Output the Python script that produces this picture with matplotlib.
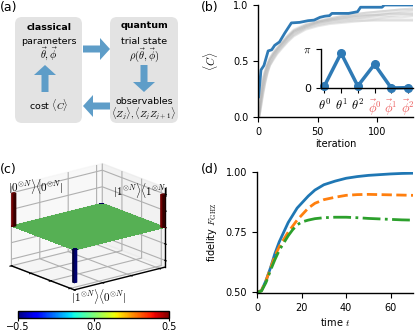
import numpy as np
import matplotlib
matplotlib.use("Agg")
import matplotlib.pyplot as plt
from matplotlib.patches import FancyBboxPatch, FancyArrow
from matplotlib.colors import Normalize, LightSource
from matplotlib.cm import ScalarMappable

plt.rcParams["mathtext.fontset"] = "cm"
plt.rcParams["font.size"] = 7
plt.rcParams["axes.linewidth"] = 1.0

# -------------------------------
# Data
# -------------------------------
# (b) cost during optimisation, best run
best_iter = [0.5, 2.5, 5, 8.5, 11.5, 14, 18, 22.5, 28, 35, 42, 47, 52, 56, 60, 62, 76, 83.5, 86, 104, 106, 130]
best_cost = [0.18, 0.42, 0.46, 0.59, 0.60, 0.64, 0.67, 0.75, 0.84, 0.845, 0.86, 0.865, 0.89, 0.90, 0.905, 0.925,
             0.925, 0.94, 0.98, 0.98, 1.0, 1.0]

# (b) other runs (grey)
run_iter = [0, 1, 2, 4, 6, 8, 10, 13, 16, 20, 25, 30, 40, 50, 60, 70, 80, 90, 100, 110, 120, 130]
runs = [
    [0, 0.05, 0.20, 0.35, 0.42, 0.48, 0.53, 0.58, 0.62, 0.67, 0.73, 0.78, 0.83, 0.86, 0.88, 0.90, 0.92, 0.93, 0.94, 0.95, 0.96, 0.97],
    [0, 0.02, 0.12, 0.28, 0.38, 0.45, 0.50, 0.55, 0.60, 0.65, 0.71, 0.76, 0.81, 0.84, 0.86, 0.88, 0.89, 0.90, 0.91, 0.92, 0.93, 0.93],
    [0, 0.00, 0.08, 0.22, 0.33, 0.41, 0.47, 0.53, 0.58, 0.63, 0.69, 0.74, 0.80, 0.83, 0.85, 0.86, 0.87, 0.88, 0.88, 0.89, 0.89, 0.90],
    [0, 0.00, 0.05, 0.18, 0.30, 0.39, 0.46, 0.52, 0.57, 0.62, 0.68, 0.73, 0.79, 0.82, 0.84, 0.85, 0.86, 0.86, 0.87, 0.87, 0.87, 0.87],
    [0, 0.03, 0.15, 0.31, 0.40, 0.47, 0.52, 0.57, 0.61, 0.66, 0.72, 0.77, 0.82, 0.85, 0.87, 0.89, 0.90, 0.91, 0.92, 0.93, 0.94, 0.95],
    [0, 0.01, 0.10, 0.25, 0.36, 0.43, 0.49, 0.55, 0.59, 0.64, 0.70, 0.75, 0.80, 0.84, 0.86, 0.87, 0.88, 0.89, 0.90, 0.90, 0.91, 0.91],
    [0, 0.00, 0.06, 0.20, 0.31, 0.40, 0.46, 0.51, 0.56, 0.61, 0.67, 0.72, 0.78, 0.81, 0.83, 0.84, 0.85, 0.86, 0.86, 0.86, 0.86, 0.86],
    [0, 0.04, 0.18, 0.33, 0.41, 0.47, 0.52, 0.57, 0.61, 0.66, 0.72, 0.77, 0.82, 0.85, 0.88, 0.90, 0.91, 0.93, 0.94, 0.95, 0.96, 0.96],
    [0, 0.02, 0.13, 0.29, 0.39, 0.46, 0.51, 0.56, 0.60, 0.65, 0.71, 0.76, 0.81, 0.85, 0.87, 0.88, 0.90, 0.91, 0.91, 0.92, 0.92, 0.92],
]

# (b) inset: optimal parameters
param_labels = [r"$\theta^0$", r"$\theta^1$", r"$\theta^2$", r"$\vec{\phi}^0$", r"$\vec{\phi}^1$", r"$\vec{\phi}^2$"]
param_values = [0.16, 2.81, 0.16, 1.91, 0.0, 0.03]

# (c) density matrix corners, rest is ~0
n_dim = 32
corner_values = {"00": 0.5, "11": 0.5, "10": -0.5, "01": -0.5}
corner_labels = [r"$|0^{\otimes N}\rangle\langle 0^{\otimes N}|$",
                 r"$|1^{\otimes N}\rangle\langle 1^{\otimes N}|$",
                 r"$|1^{\otimes N}\rangle\langle 0^{\otimes N}|$"]

# (d) fidelity vs time
t = [0, 2, 4, 6, 8, 10, 12, 14, 16, 18, 20, 23, 26, 30, 35, 40, 45, 50, 55, 60, 65, 70]
fid_blue = [0.5, 0.507, 0.548, 0.60, 0.66, 0.71, 0.75, 0.79, 0.82, 0.85, 0.87, 0.90, 0.925, 0.947, 0.962,
            0.974, 0.981, 0.986, 0.989, 0.992, 0.994, 0.995]
fid_orange = [0.5, 0.507, 0.547, 0.598, 0.65, 0.69, 0.72, 0.75, 0.775, 0.80, 0.82, 0.85, 0.87, 0.885, 0.895,
              0.903, 0.906, 0.907, 0.906, 0.905, 0.904, 0.903]
fid_green = [0.5, 0.505, 0.54, 0.59, 0.635, 0.675, 0.705, 0.735, 0.76, 0.78, 0.792, 0.80, 0.806, 0.81, 0.812,
             0.812, 0.81, 0.807, 0.805, 0.803, 0.801, 0.80]

W, H = 415, 332
fig = plt.figure(figsize=(W / 100, H / 100), dpi=100)


def box(l, t_, r, b):
    return [l / W, 1 - b / H, (r - l) / W, (b - t_) / H]


def px(x, y):
    return x / W, 1 - y / H


def despine(ax):
    ax.spines["top"].set_visible(False)
    ax.spines["right"].set_visible(False)


# -------------------------------
# (a) scheme
# -------------------------------
ax_a = fig.add_axes(box(0, 0, 205, 140))
ax_a.set_xlim(0, 205)
ax_a.set_ylim(140, 0)
ax_a.axis("off")

box_color = "#e3e3e3"
arrow_color = "#5e9dc8"
for l, r in [(15, 82), (110, 178)]:
    ax_a.add_patch(FancyBboxPatch((l, 17), r - l, 106, boxstyle="round,pad=0,rounding_size=7",
                                  fc=box_color, ec="none"))

arrow_kw = dict(width=7, head_width=22, head_length=10, length_includes_head=True, fc=arrow_color, ec="none")
ax_a.add_patch(FancyArrow(83, 49, 27, 0, **arrow_kw))
ax_a.add_patch(FancyArrow(144, 65, 0, 27, **arrow_kw))
ax_a.add_patch(FancyArrow(110, 106, -27, 0, **arrow_kw))
ax_a.add_patch(FancyArrow(45, 92, 0, -27, **arrow_kw))

fs = 6.8
ax_a.text(49, 27, "classical", ha="center", va="center", fontweight="bold", fontsize=fs)
ax_a.text(49, 42, "parameters", ha="center", va="center", fontsize=fs)
ax_a.text(49, 54, r"$\vec{\theta},\vec{\phi}$", ha="center", va="center", fontsize=7.5)
ax_a.text(49, 105, r"cost $\langle C\rangle$", ha="center", va="center", fontsize=fs)
ax_a.text(144, 26, "quantum", ha="center", va="center", fontweight="bold", fontsize=fs)
ax_a.text(144, 42, "trial state", ha="center", va="center", fontsize=fs)
ax_a.text(144, 55, r"$\rho(\vec{\theta},\vec{\phi})$", ha="center", va="center", fontsize=7.5)
ax_a.text(144, 101, "observables", ha="center", va="center", fontsize=fs)
ax_a.text(144, 114, r"$\langle Z_j\rangle,\langle Z_jZ_{j+1}\rangle$", ha="center", va="center", fontsize=7)

# -------------------------------
# (b) cost
# -------------------------------
ax_b = fig.add_axes(box(258, 5, 413, 117))
for r in runs:
    ax_b.plot(run_iter, r, color="0.7", alpha=0.3, lw=1.5)
ax_b.plot(best_iter, best_cost, color="#2f7ab5", lw=2)
ax_b.set_xlim(0, 130)
ax_b.set_ylim(0, 1.0)
ax_b.set_xticks([0, 50, 100])
ax_b.set_yticks([0.0, 0.5, 1.0])
ax_b.set_xlabel("iteration", labelpad=2)
ax_b.set_ylabel(r"$\langle C\rangle$", fontsize=8, labelpad=9)
despine(ax_b)

ax_in = fig.add_axes(box(321, 49, 413, 88))
ax_in.plot(range(len(param_values)), param_values, "o-", color="#2f7ab5", lw=2.5, ms=5.5, clip_on=False)
ax_in.set_xlim(-0.2, 5.3)
ax_in.set_ylim(0, np.pi)
ax_in.set_yticks([0, np.pi])
ax_in.set_yticklabels(["0", r"$\pi$"], fontsize=8)
ax_in.set_xticks(range(len(param_labels)))
ax_in.set_xticklabels(param_labels, fontsize=9)
for i, lab in enumerate(ax_in.get_xticklabels()):
    if i >= 3:
        lab.set_color("#ec5a5a")
ax_in.patch.set_alpha(0)
despine(ax_in)

# -------------------------------
# (c) density matrix
# -------------------------------
ax_c = fig.add_axes(box(-19, 144, 191, 314), projection="3d", proj_type="ortho")
ax_c.computed_zorder = False
rho = np.zeros((n_dim, n_dim))
rho[0, 0] = corner_values["00"]
rho[-1, -1] = corner_values["11"]
rho[-1, 0] = corner_values["10"]
rho[0, -1] = corner_values["01"]
norm = Normalize(-0.5, 0.5)

# flat part of the matrix as a surface (xy indexing so the normal points up), peaks as bars
gx, gy = np.meshgrid(np.arange(n_dim + 1), np.arange(n_dim + 1))
ax_c.plot_surface(gx, gy, np.zeros_like(gx, dtype=float), facecolors=plt.cm.jet(norm(rho.T)),
                  rstride=1, cstride=1, linewidth=0, antialiased=False, shade=True,
                  lightsource=LightSource(azdeg=225, altdeg=6.5), zorder=2)
for i, j in zip(*np.nonzero(rho)):
    v = rho[i, j]
    # the bar hanging below the far corner sits behind the plane
    z = 1 if (i == 0 and j == n_dim - 1) else 3
    ax_c.bar3d(i, j, 0, 1, 1, v, color=plt.cm.jet(norm(v)), shade=True, zorder=z)
ax_c.set_xlim(0, n_dim)
ax_c.set_ylim(0, n_dim)
ax_c.set_zlim(-0.6, 0.6)
ax_c.set_box_aspect((3.42, 4, 2.86))
ax_c.view_init(elev=18, azim=-39)
ax_c.set_xticklabels([])
ax_c.set_yticklabels([])
ax_c.set_zticklabels([])
fig.text(*px(36, 187), corner_labels[0], fontsize=8, ha="center", va="center")
fig.text(*px(141, 190), corner_labels[1], fontsize=8, ha="center", va="center")
fig.text(*px(99, 297), corner_labels[2], fontsize=8, ha="center", va="center")

cax = fig.add_axes(box(18, 311, 169, 318))
cb = fig.colorbar(ScalarMappable(norm=norm, cmap="jet"), cax=cax, orientation="horizontal")
cb.set_ticks([-0.5, 0.0, 0.5])
cb.ax.tick_params(length=2, pad=1, labelsize=7)

# -------------------------------
# (d) fidelity
# -------------------------------
ax_d = fig.add_axes(box(257, 172, 413, 293))
ax_d.plot(t, fid_blue, color="#1f77b4", lw=2)
ax_d.plot(t, fid_orange, color="#ff7f0e", lw=2, ls="--")
ax_d.plot(t, fid_green, color="#2ca02c", lw=2, ls="-.")
ax_d.set_xlim(0, 70)
ax_d.set_ylim(0.497, 1.0)
ax_d.set_xticks([0, 20, 40, 60])
ax_d.set_yticks([0.5, 0.75, 1.0])
ax_d.set_yticklabels(["0.50", "0.75", "1.00"])
ax_d.set_xlabel(r"time $t$", labelpad=2)
ax_d.set_ylabel(r"fidelity $F_{\rm GHZ}$", labelpad=5)
despine(ax_d)

# panel labels
fig.text(*px(0, 7), "(a)", fontsize=9, va="center")
fig.text(*px(201, 7), "(b)", fontsize=9, va="center")
fig.text(*px(0, 170), "(c)", fontsize=9, va="center")
fig.text(*px(201, 170), "(d)", fontsize=9, va="center")

fig.savefig("out.png", dpi=100)
